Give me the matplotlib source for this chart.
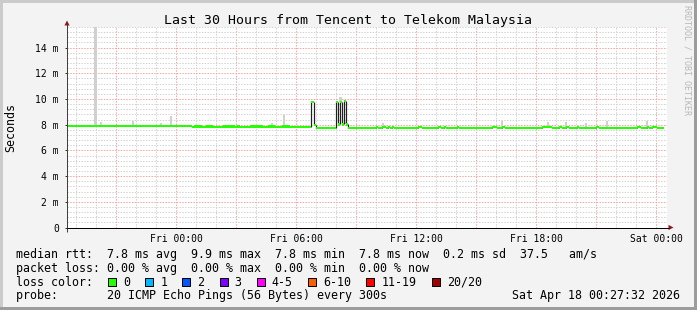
import matplotlib
matplotlib.use("Agg")
import matplotlib.pyplot as plt
from matplotlib.patches import Rectangle, Polygon
import numpy as np

# ---------------- data ----------------
title = "Last 30 Hours from Tencent to Telekom Malaysia"
ylabel = "Seconds"
side_text = "RRDTOOL / TOBI OETIKER"

# x values are hours relative to Fri 00:00
x_start, x_end = -5.45, 24.55
xtick_hours = [0, 6, 12, 18, 24]
xtick_labels = ["Fri 00:00", "Fri 06:00", "Fri 12:00", "Fri 18:00", "Sat 00:00"]
ytick_values = [0, 2, 4, 6, 8, 10, 12, 14]
ytick_labels = ["0", "2 m", "4 m", "6 m", "8 m", "10 m", "12 m", "14 m"]
y_max = 15.6  # ms

# median rtt (ms) as step segments: start hour, value
med_t = [-5.45, 0.80, 0.90, 1.30, 1.50, 1.85, 2.05, 2.35, 2.95, 3.05, 3.20, 3.45,
         3.70, 4.35, 4.60, 4.95, 5.30, 5.70, 6.00, 6.75, 6.90, 7.00, 8.00, 8.10,
         8.20, 8.30, 8.40, 8.50, 8.60, 10.00, 10.10, 10.30, 10.50, 10.60, 10.70,
         10.80, 10.90, 12.10, 12.30, 13.10, 13.25, 13.40, 13.50, 14.05, 14.15,
         15.80, 16.05, 16.30, 16.45, 18.30, 18.80, 19.15, 19.30, 19.50, 19.65,
         20.05, 20.15, 21.00, 21.15, 23.05, 23.25, 23.55, 23.65, 23.80, 24.05]
med_v = [7.88, 7.79, 7.86, 7.79, 7.86, 7.79, 7.81, 7.86, 7.79, 7.86, 7.79, 7.81,
         7.86, 7.79, 7.86, 7.81, 7.86, 7.81, 7.85, 9.74, 8.00, 7.75, 9.74, 8.02,
         9.74, 8.02, 9.82, 8.02, 7.77, 7.84, 7.77, 7.84, 7.77, 7.84, 7.77,
         7.84, 7.77, 7.84, 7.77, 7.84, 7.77, 7.84, 7.77, 7.84, 7.77,
         7.84, 7.77, 7.84, 7.77, 7.84, 7.77, 7.84, 7.77, 7.84, 7.77,
         7.84, 7.77, 7.84, 7.77, 7.84, 7.77, 7.84, 7.77, 7.84, 7.77]
med_end = 24.40

# smoke (ping spread) visible tops: hour, top value (ms), width (hours)
smoke_t = [-4.03, -3.75, -2.90, -2.15, -0.75, -0.25, 4.80, 5.40, 8.22, 8.50,
           10.35, 15.90, 16.30, 18.60, 19.50, 20.50, 21.55, 23.55]
smoke_top = [16.5, 8.20, 8.00, 8.30, 8.10, 8.65, 8.10, 8.75, 10.15, 8.20,
             8.10, 8.00, 8.25, 8.20, 8.20, 8.15, 8.30, 8.30]
smoke_w = [0.15, 0.09, 0.09, 0.12, 0.09, 0.09, 0.09, 0.09, 0.15, 0.09,
           0.12, 0.09, 0.09, 0.12, 0.09, 0.09, 0.09, 0.09]

# legend statistics
rtt_avg, rtt_max, rtt_min, rtt_now, rtt_sd, am_s = 7.8, 9.9, 7.8, 7.8, 0.2, 37.5
loss_avg, loss_max, loss_min, loss_now = 0.00, 0.00, 0.00, 0.00
loss_labels = ["0", "1", "2", "3", "4-5", "6-10", "11-19", "20/20"]
loss_colors = ["#26ff00", "#00b8ff", "#0059ff", "#7e00ff", "#ff00ff",
               "#ff5e00", "#ff0000", "#a00000"]
probe_text = "20 ICMP Echo Pings (56 Bytes) every 300s"
date_text = "Sat Apr 18 00:27:32 2026"

# ---------------- layout ----------------
W, H = 697, 310
MONO = "DejaVu Sans Mono"
BACK = "#f3f3f3"
fig = plt.figure(figsize=(W / 100, H / 100), dpi=100, facecolor=BACK)

L, R, T, B = 67, 667, 27, 227.5
ax = fig.add_axes([L / W, 1 - B / H, (R - L) / W, (B - T) / H])
ax.set_facecolor("white")
ax.set_xlim(x_start, x_end)
ax.set_ylim(0, y_max)
for s in ax.spines.values():
    s.set_visible(False)

px = 0.72  # one pixel in points
# grid
dash = (0, (1.4, 1.4))
h = np.arange(-5, 25, 1)
for v in h:
    major = (v % 3 == 0)
    ax.axvline(v, color="#ffa0a0" if major else "#d2d2d2", lw=px,
               linestyle=dash, zorder=0.5)
for i in range(1, 40):
    v = i * 0.4
    if v > y_max + 1e-6:
        break
    major = (i % 5 == 0)
    ax.axhline(v, color="#ffa0a0" if major else "#d2d2d2", lw=px,
               linestyle=dash, zorder=0.5)

# smoke
med_t_arr = np.array(med_t)
med_v_arr = np.array(med_v)
for t, top, w in zip(smoke_t, smoke_top, smoke_w):
    idx = np.searchsorted(med_t_arr, t, side="right") - 1
    base = med_v_arr[idx]
    ax.bar(t, top - base, bottom=base, width=w, color="#d0d0d0",
           edgecolor="none", zorder=1, align="center")

# median: dark thin transitions then loss-colour band
xs = np.array(med_t + [med_end])
ys = np.array(med_v + [med_v[-1]])
ax.vlines(med_t_arr[1:], med_v_arr[:-1], med_v_arr[1:], color="#202020",
          lw=px * 1.2, zorder=2)
band = 0.085
ax.fill_between(xs, ys - band, ys + band, step="post", color=loss_colors[0],
                lw=0, zorder=3)

# ticks
ax.set_xticks(xtick_hours, xtick_labels)
ax.set_yticks(ytick_values, ytick_labels)
ax.tick_params(axis="x", length=0, pad=4.5, labelsize=7, labelcolor="#000000")
ax.tick_params(axis="y", length=1.5, width=px, color="#333333", pad=4.3,
               labelsize=7, labelcolor="#000000")
for lab in ax.get_xticklabels() + ax.get_yticklabels():
    lab.set_family(MONO)

# overlay in pixel coordinates
ov = fig.add_axes([0, 0, 1, 1], facecolor="none")
ov.set_xlim(0, W)
ov.set_ylim(H, 0)
ov.set_axis_off()
ov.set_zorder(10)

# border shades
ov.add_patch(Rectangle((0, 0), W, 3, color="#cbcbcb", lw=0))
ov.add_patch(Rectangle((0, 0), 3, H, color="#cbcbcb", lw=0))
ov.add_patch(Rectangle((W - 3, 0), 3, H, color="#9c9c9c", lw=0))
ov.add_patch(Rectangle((0, H - 3), W, 3, color="#9c9c9c", lw=0))

# axes lines and arrows
ov.plot([L, L], [231.5, 24], color="#404040", lw=px, solid_capstyle="butt")
ov.plot([L - 0.5, 669], [B, B], color="#000000", lw=px, solid_capstyle="butt")
ov.add_patch(Polygon([[L - 2.6, 25.5], [L + 2.6, 25.5], [L, 20.5]],
                     closed=True, color="#8b1a1a", lw=0))
ov.add_patch(Polygon([[668.5, B - 2.6], [668.5, B + 2.6], [673.5, B]],
                     closed=True, color="#8b1a1a", lw=0))

# texts
ov.text(348, 24, title, family=MONO, fontsize=9.5, ha="center", va="baseline")
ov.text(10.5, 127.5, ylabel, family=MONO, fontsize=8.4, rotation=90,
        ha="center", va="center")
ov.text(687.5, 5, side_text, family=MONO, fontsize=6, rotation=-90,
        ha="center", va="top", color="#b8b8b8")

fs = 8.4
cw = 0.602 * fs * 100 / 72
row1 = (f"median rtt:  {rtt_avg:.1f} ms avg  {rtt_max:.1f} ms max  "
        f"{rtt_min:.1f} ms min  {rtt_now:.1f} ms now  {rtt_sd:.1f} ms sd  "
        f"{am_s:.1f}   am/s")
row2 = (f"packet loss: {loss_avg:.2f} % avg  {loss_max:.2f} % max  "
        f"{loss_min:.2f} % min  {loss_now:.2f} % now")
ov.text(16, 258, row1, family=MONO, fontsize=fs, va="baseline")
ov.text(16, 272, row2, family=MONO, fontsize=fs, va="baseline")
ov.text(16, 285.7, "loss color:", family=MONO, fontsize=fs, va="baseline")
x = 108
for lab, col in zip(loss_labels, loss_colors):
    ov.add_patch(Rectangle((x, 278), 8, 8, facecolor=col, edgecolor="black",
                           lw=px))
    ov.text(x + 15, 285.7, lab, family=MONO, fontsize=fs, va="baseline")
    x = x + 15 + len(lab) * cw + 15.2
ov.text(16, 299.5, "probe:       " + probe_text, family=MONO, fontsize=fs,
        va="baseline")
ov.text(680, 299.5, date_text, family=MONO, fontsize=fs, va="baseline",
        ha="right")

fig.savefig("out.png", dpi=100, facecolor=BACK)
